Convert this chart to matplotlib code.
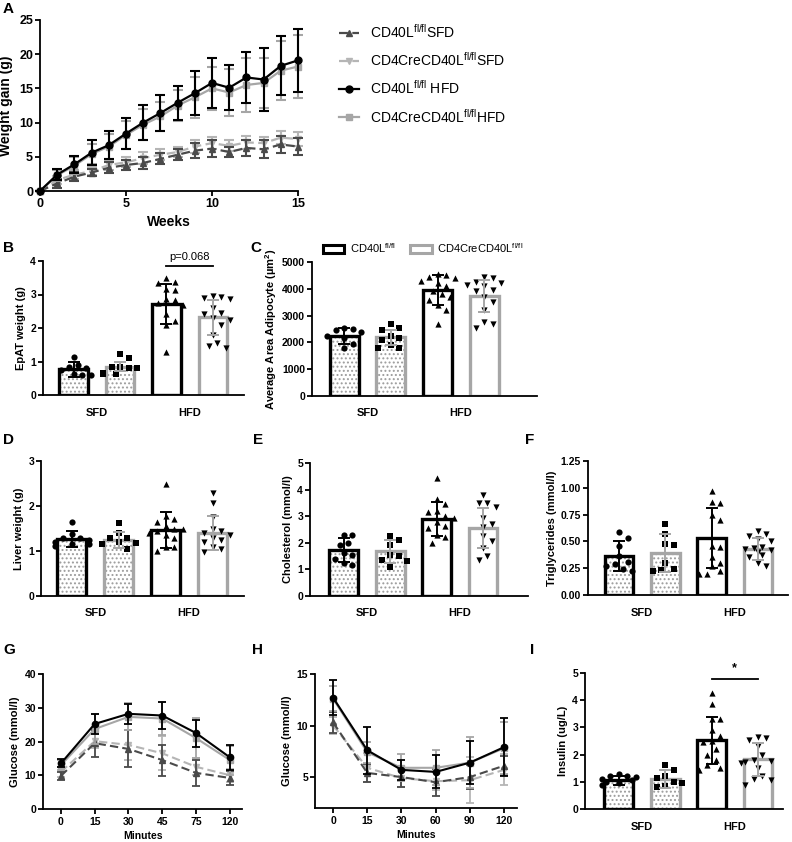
import numpy as np
import matplotlib
matplotlib.use('Agg')
import matplotlib.pyplot as plt
from matplotlib.lines import Line2D
from matplotlib.patches import Patch

plt.rcParams['font.family'] = ['Liberation Sans', 'DejaVu Sans']
plt.rcParams['font.weight'] = 'bold'
plt.rcParams['axes.labelweight'] = 'bold'
plt.rcParams['mathtext.fontset'] = 'custom'
plt.rcParams['mathtext.rm'] = 'Liberation Sans'
plt.rcParams['mathtext.default'] = 'regular'
plt.rcParams['hatch.linewidth'] = 0.9

# ---------------- DATA ----------------
weeks = list(range(16))
a_cd40l_hfd = [0, 2.4, 3.9, 5.6, 6.7, 8.4, 10.0, 11.4, 12.9, 14.3, 15.8, 15.1, 16.6, 16.3, 18.3, 19.1]
a_cd40l_hfd_err = [0, 0.8, 1.2, 1.8, 2.0, 2.2, 2.6, 2.6, 2.5, 3.2, 3.7, 3.3, 3.7, 4.6, 4.3, 4.6]
a_cre_hfd = [0, 2.3, 3.7, 5.4, 6.5, 8.2, 9.7, 10.9, 12.5, 13.7, 15.0, 14.4, 15.5, 15.8, 17.6, 18.2]
a_cre_hfd_err = [0, 0.8, 1.2, 1.5, 1.8, 2.0, 2.3, 2.1, 2.2, 3.0, 3.2, 3.5, 4.0, 3.7, 4.3, 4.6]
a_cd40l_sfd = [0, 1.1, 2.1, 2.7, 3.4, 3.8, 4.1, 4.7, 5.3, 5.9, 6.2, 5.7, 6.3, 6.1, 6.8, 6.5]
a_cd40l_sfd_err = [0, 0.6, 0.7, 0.5, 0.8, 0.8, 0.9, 0.8, 0.8, 1.1, 1.2, 0.8, 1.2, 1.3, 1.2, 1.2]
a_cre_sfd = [0, 1.6, 2.4, 2.9, 3.8, 4.2, 4.8, 5.3, 5.7, 6.5, 7.0, 6.6, 7.1, 7.0, 7.8, 7.6]
a_cre_sfd_err = [0, 0.6, 0.7, 0.6, 0.7, 0.7, 0.9, 0.8, 0.8, 0.9, 0.9, 0.8, 0.9, 0.9, 0.9, 1.0]

legend_labels = [r'CD40L$^{fl/fl}$SFD', r'CD4CreCD40L$^{fl/fl}$SFD',
                 r'CD40L$^{fl/fl}$ HFD', r'CD4CreCD40L$^{fl/fl}$HFD']
bar_legend_labels = [r'CD40L$^{fl/fl}$', r'CD4CreCD40L$^{fl/fl}$']
diet_labels = ['SFD', 'HFD']

# B EpAT weight
b_means = [0.77, 0.85, 2.72, 2.32]
b_sds = [0.22, 0.14, 0.60, 0.52]
b_pts = [[0.85, 0.60, 0.75, 1.13, 0.82, 0.62, 0.60, 0.90],
         [0.82, 0.62, 0.85, 1.10, 1.22, 0.85, 0.65, 0.80, 0.62],
         [3.50, 3.38, 3.35, 3.15, 3.12, 2.88, 2.85, 2.75, 2.42, 2.22, 2.10, 2.70, 1.28],
         [2.95, 2.92, 2.90, 2.88, 2.60, 2.45, 2.42, 2.30, 2.25, 1.80, 1.55, 1.45, 1.40, 2.10]]
# C adipocyte area
c_means = [2230, 2200, 3960, 3740]
c_sds = [290, 280, 560, 590]
c_pts = [[2550, 2500, 2450, 2400, 2250, 2150, 1950, 1800],
         [2700, 2520, 2450, 2250, 2100, 1900, 1800, 1800, 2150],
         [4550, 4500, 4450, 4400, 4300, 4200, 4100, 3900, 3800, 3700, 3600, 3400, 3200, 2700],
         [4450, 4400, 4250, 4200, 4150, 4100, 3950, 3900, 3700, 3500, 3200, 2750, 2550, 2700]]
# D liver weight
d_means = [1.27, 1.25, 1.47, 1.40]
d_sds = [0.17, 0.18, 0.40, 0.37]
d_pts = [[1.65, 1.38, 1.28, 1.25, 1.20, 1.15, 1.15, 1.12, 1.30],
         [1.62, 1.40, 1.30, 1.28, 1.20, 1.18, 1.15, 1.05],
         [2.50, 1.78, 1.72, 1.65, 1.55, 1.50, 1.50, 1.45, 1.40, 1.35, 1.30, 1.10, 1.08, 1.00],
         [2.28, 2.07, 1.75, 1.50, 1.45, 1.40, 1.35, 1.30, 1.25, 1.20, 1.10, 1.05, 0.97]]
# E cholesterol
e_means = [1.72, 1.68, 2.90, 2.55]
e_sds = [0.45, 0.43, 0.65, 0.75]
e_pts = [[2.28, 2.28, 2.00, 1.90, 1.60, 1.55, 1.40, 1.25, 1.15],
         [2.25, 2.10, 1.90, 1.55, 1.50, 1.35, 1.30, 1.10],
         [4.45, 3.65, 3.45, 3.20, 3.15, 3.00, 2.95, 2.80, 2.65, 2.55, 2.30, 2.20, 2.00],
         [3.80, 3.50, 3.50, 3.35, 2.95, 2.70, 2.60, 2.25, 2.05, 1.80, 1.50, 1.35]]
# F triglycerides
f_means = [0.365, 0.39, 0.535, 0.43]
f_sds = [0.14, 0.175, 0.28, 0.10]
f_pts = [[0.59, 0.53, 0.46, 0.36, 0.29, 0.27, 0.24, 0.22, 0.31],
         [0.66, 0.57, 0.48, 0.47, 0.30, 0.24, 0.23, 0.22],
         [0.97, 0.87, 0.86, 0.75, 0.70, 0.46, 0.45, 0.35, 0.30, 0.27, 0.22, 0.20, 0.20],
         [0.60, 0.57, 0.55, 0.52, 0.50, 0.45, 0.44, 0.43, 0.42, 0.40, 0.37, 0.35, 0.30, 0.27]]
# G GTT
g_times = ['0', '15', '30', '45', '75', '120']
g_cd40l_hfd = [13.5, 25.2, 28.2, 27.7, 22.5, 15.3]
g_cd40l_hfd_err = [1.2, 3.0, 3.0, 4.0, 4.0, 3.7]
g_cre_hfd = [13.0, 23.7, 27.3, 26.8, 21.0, 14.5]
g_cre_hfd_err = [1.5, 4.5, 4.0, 5.0, 6.0, 4.3]
g_cd40l_sfd = [9.8, 19.5, 17.8, 14.5, 10.7, 9.2]
g_cd40l_sfd_err = [1.2, 4.0, 5.5, 4.6, 3.8, 2.0]
g_cre_sfd = [11.0, 20.1, 19.0, 16.5, 12.5, 10.0]
g_cre_sfd_err = [1.5, 2.0, 4.5, 5.0, 2.5, 2.0]
# H ITT
h_times = ['0', '15', '30', '60', '90', '120']
h_cd40l_hfd = [12.7, 7.6, 5.7, 5.5, 6.4, 7.9]
h_cd40l_hfd_err = [1.7, 2.3, 1.0, 1.6, 2.1, 2.8]
h_cre_hfd = [12.6, 7.4, 5.9, 5.9, 6.4, 7.8]
h_cre_hfd_err = [1.2, 1.0, 1.3, 1.7, 2.5, 2.5]
h_cd40l_sfd = [10.3, 5.4, 5.0, 4.5, 5.0, 6.1]
h_cd40l_sfd_err = [1.0, 0.9, 1.0, 1.3, 1.2, 0.9]
h_cre_sfd = [10.0, 5.9, 4.9, 4.6, 4.7, 5.7]
h_cre_sfd_err = [0.8, 1.4, 0.9, 0.9, 2.2, 1.5]
# I insulin
i_means = [1.05, 1.10, 2.52, 1.82]
i_sds = [0.17, 0.33, 0.88, 0.59]
i_pts = [[1.30, 1.22, 1.20, 1.18, 1.10, 1.05, 1.00, 0.95, 0.90],
         [1.60, 1.42, 1.20, 1.15, 1.00, 0.95, 0.85, 0.82],
         [4.25, 3.85, 3.30, 3.30, 2.90, 2.70, 2.50, 2.45, 2.20, 2.00, 1.80, 1.60, 1.45, 1.50],
         [2.65, 2.60, 2.55, 2.30, 2.00, 1.80, 1.75, 1.72, 1.70, 1.50, 1.20, 1.10, 1.05, 0.90]]

# ---------------- STYLE ----------------
BLACK = '#000000'
GRAY = '#a6a6a6'
DARK = '#4a4a4a'
LIGHT = '#b5b5b5'

W, H = 792, 842
fig = plt.figure(figsize=(W / 100, H / 100), dpi=100)


def add_ax(x0, y0, x1, y1):
    return fig.add_axes([x0 / W, 1 - y1 / H, (x1 - x0) / W, (y1 - y0) / H])


def style(ax, fs=7.5):
    for s in ['top', 'right']:
        ax.spines[s].set_visible(False)
    for s in ['left', 'bottom']:
        ax.spines[s].set_linewidth(1.3)
    ax.tick_params(direction='out', length=3.5, width=1.3, labelsize=fs, pad=1.5)


def swarm(vals, ylim, h_px, unit_px, diam=8.5, maxoff=0.44):
    ypx = (np.asarray(vals, float) - ylim[0]) / (ylim[1] - ylim[0]) * h_px
    order = np.argsort(-ypx)
    placed = []
    offs = np.zeros(len(vals))
    step = diam * 0.5
    cands = [0.0]
    k = 1
    while k * step / unit_px <= maxoff + 1e-9:
        cands += [k * step, -k * step]
        k += 1
    for idx in order:
        y = ypx[idx]
        best = None
        for c in cands:
            ok = all((c - px) ** 2 + (y - py) ** 2 >= diam ** 2 for px, py in placed)
            if ok:
                best = c
                break
        if best is None:
            best = cands[len(placed) % len(cands)]
        placed.append((best, y))
        offs[idx] = best / unit_px
    return offs


MARKERS = ['o', 's', '^', 'v']


def bar_panel(box, means, sds, pts, ylim, yticks, ylabel, xlim, fmt=None):
    ax = add_ax(*box)
    style(ax)
    width_px = box[2] - box[0]
    h_px = box[3] - box[1]
    unit_px = width_px / (xlim[1] - xlim[0])
    for i in range(4):
        edge = BLACK if i % 2 == 0 else GRAY
        if i < 2:
            ax.bar(i, means[i], width=0.62, color='white', edgecolor='#9c9c9c',
                   hatch='....', lw=0, zorder=1)
            fc = 'none'
        else:
            fc = 'white'
        ax.bar(i, means[i], width=0.62, facecolor=fc, edgecolor=edge, lw=2.4, zorder=2)
        offs = swarm(pts[i], ylim, h_px, unit_px)
        ax.scatter(i + offs, pts[i], marker=MARKERS[i], s=20, color='black',
                   lw=0, zorder=3, clip_on=False)
        ax.errorbar(i, means[i], yerr=sds[i], color=edge, capsize=4.5,
                    elinewidth=1.4, capthick=1.4, zorder=4)
    ax.set_xlim(*xlim)
    ax.set_ylim(*ylim)
    ax.set_yticks(yticks)
    if fmt:
        ax.set_yticklabels([fmt.format(v) for v in yticks])
    ax.set_xticks([0.5, 2.5])
    ax.set_xticklabels(diet_labels, fontsize=8)
    ax.tick_params(axis='x', length=0, pad=9)
    ax.set_ylabel(ylabel, fontsize=8, labelpad=3)
    return ax


def line_panel(box, times, series, ylim, yticks, xlim, ylabel):
    ax = add_ax(*box)
    style(ax)
    x = np.arange(len(times))
    for (vals, err, c, m, ls, z) in series:
        ax.errorbar(x, vals, yerr=err, color=c, marker=m, ms=4.5, ls=ls, lw=1.5,
                    capsize=3, elinewidth=1.3, capthick=1.3, zorder=z, clip_on=False)
    ax.set_xlim(*xlim)
    ax.set_ylim(*ylim)
    ax.set_yticks(yticks)
    ax.set_xticks(x)
    ax.set_xticklabels(times)
    ax.tick_params(axis='x', pad=2.5)
    ax.set_xlabel('Minutes', fontsize=7.5, labelpad=2.5)
    ax.set_ylabel(ylabel, fontsize=8, labelpad=3)
    return ax


DASH = (0, (4, 2))

# ---------------- PANEL A ----------------
axA = add_ax(40, 20, 298, 191)
style(axA, fs=9)
sA = [(a_cd40l_sfd, a_cd40l_sfd_err, DARK, '^', DASH, 3),
      (a_cre_sfd, a_cre_sfd_err, LIGHT, 'v', DASH, 2),
      (a_cd40l_hfd, a_cd40l_hfd_err, BLACK, 'o', '-', 5),
      (a_cre_hfd, a_cre_hfd_err, GRAY, 's', '-', 4)]
handles = []
for (vals, err, c, m, ls, z) in sA:
    axA.errorbar(weeks, vals, yerr=err, color=c, marker=m, ms=5, ls=ls, lw=1.6,
                 capsize=3.5, elinewidth=1.5, capthick=1.5, zorder=z, clip_on=False)
    handles.append(Line2D([], [], color=c, marker=m, ms=5, ls=ls, lw=1.6))
axA.set_xlim(0, 15)
axA.set_ylim(0, 25)
axA.set_xticks([0, 5, 10, 15])
axA.set_yticks([0, 5, 10, 15, 20, 25])
axA.set_xlabel('Weeks', fontsize=10, labelpad=4)
axA.set_ylabel('Weight gain (g)', fontsize=10, labelpad=4)
fig.legend(handles=handles, labels=legend_labels, loc='upper left',
           bbox_to_anchor=(326 / W, 1 - 10 / H), frameon=False,
           prop={'size': 10, 'weight': 'normal'}, handlelength=1.5,
           labelspacing=0.75, handletextpad=0.8)

# ---------------- PANEL B ----------------
axB = bar_panel((43, 261, 244, 395), b_means, b_sds, b_pts, (0, 4), [0, 1, 2, 3, 4],
                'EpAT weight (g)', (-0.66, 3.67))
axB.plot([2, 3], [3.85, 3.85], color='black', lw=1.3, clip_on=False)
axB.text(2.5, 3.98, 'p=0.068', ha='center', va='bottom', fontsize=8,
         fontweight='normal', clip_on=False)

# ---------------- PANEL C ----------------
axC = bar_panel((312, 262, 537, 396), c_means, c_sds, c_pts, (0, 5000),
                [0, 1000, 2000, 3000, 4000, 5000],
                'Average Area Adipocyte (µm$^{2}$)', (-0.69, 4.13))
axC.set_ylabel('Average Area Adipocyte (µm$^{2}$)', fontsize=8, labelpad=2)
legC = axC.legend(handles=[Patch(facecolor='white', edgecolor=BLACK, lw=2.2),
                           Patch(facecolor='white', edgecolor=GRAY, lw=2.2)],
                  labels=bar_legend_labels, ncol=2, loc='lower left',
                  bbox_to_anchor=(0.03, 1.02), frameon=False,
                  prop={'size': 8, 'weight': 'normal'}, handlelength=1.9,
                  handleheight=0.8, columnspacing=1.3, handletextpad=0.5,
                  borderaxespad=0)

# ---------------- PANEL D ----------------
bar_panel((41, 461, 244, 596), d_means, d_sds, d_pts, (0, 3), [0, 1, 2, 3],
          'Liver weight (g)', (-0.66, 3.67))
# ---------------- PANEL E ----------------
bar_panel((310, 463, 528, 596), e_means, e_sds, e_pts, (0, 5), [0, 1, 2, 3, 4, 5],
          'Cholesterol (mmol/l)', (-0.73, 3.97))
# ---------------- PANEL F ----------------
bar_panel((588, 461, 788, 595), f_means, f_sds, f_pts, (0, 1.25),
          [0, 0.25, 0.5, 0.75, 1.0, 1.25], 'Triglycerides (mmol/l)', (-0.67, 3.65),
          fmt='{:.2f}')

# ---------------- PANEL G ----------------
line_panel((43, 674, 242, 809), g_times,
           [(g_cd40l_sfd, g_cd40l_sfd_err, DARK, '^', DASH, 3),
            (g_cre_sfd, g_cre_sfd_err, LIGHT, 'v', DASH, 2),
            (g_cre_hfd, g_cre_hfd_err, GRAY, 's', '-', 4),
            (g_cd40l_hfd, g_cd40l_hfd_err, BLACK, 'o', '-', 5)],
           (0, 40), [0, 10, 20, 30, 40], (-0.53, 5.36), 'Glucose (mmol/l)')

# ---------------- PANEL H ----------------
line_panel((315, 674, 517, 808), h_times,
           [(h_cd40l_sfd, h_cd40l_sfd_err, DARK, '^', DASH, 3),
            (h_cre_sfd, h_cre_sfd_err, LIGHT, 'v', DASH, 2),
            (h_cre_hfd, h_cre_hfd_err, GRAY, 's', '-', 4),
            (h_cd40l_hfd, h_cd40l_hfd_err, BLACK, 'o', '-', 5)],
           (2, 15), [5, 10, 15], (-0.53, 5.38), 'Glucose (mmol/l)')

# ---------------- PANEL I ----------------
axI = bar_panel((585, 673, 783, 809), i_means, i_sds, i_pts, (0, 5), [0, 1, 2, 3, 4, 5],
                'Insulin (ug/L)', (-0.73, 3.54))
axI.plot([2, 3], [4.78, 4.78], color='black', lw=1.3, clip_on=False)
axI.text(2.5, 4.95, '*', ha='center', va='bottom', fontsize=9, clip_on=False)

# ---------------- LETTERS ----------------
letters = [('A', 3, 2), ('B', 3, 241), ('C', 250, 241), ('D', 3, 433), ('E', 253, 433),
           ('F', 525, 433), ('G', 3, 643), ('H', 252, 643), ('I', 530, 643)]
for t, x, y in letters:
    fig.text(x / W, 1 - y / H, t, ha='left', va='top', fontsize=11, fontweight='bold')

fig.savefig('out.png', dpi=100)
